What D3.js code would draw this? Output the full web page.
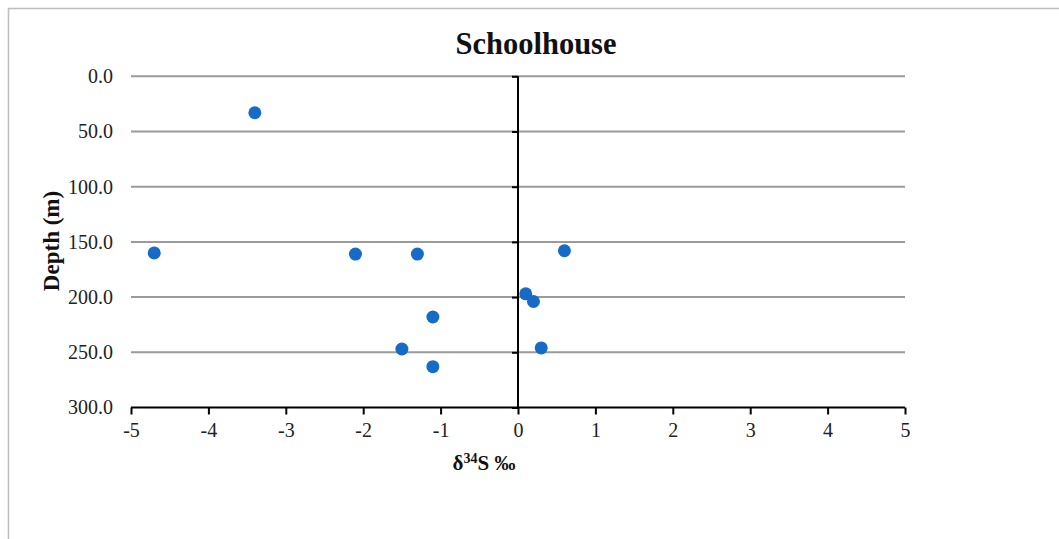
<!DOCTYPE html>
<html>
<head>
<meta charset="utf-8">
<script src="https://cdn.jsdelivr.net/npm/d3@7"></script>
<style>
  html, body { margin: 0; padding: 0; background: #fff; }
  svg { display: block; font-family: "Liberation Serif", "Times New Roman", serif; }
</style>
</head>
<body>
<svg id="chart" width="1059" height="539"></svg>
<script>
// δ34S values (‰) and sample depths (m)
const delta34S = [-3.4, -4.7, -2.1, -1.3, 0.6, 0.1, 0.2, -1.1, -1.5, 0.3, -1.1];
const depthM   = [33, 160, 161, 161, 158, 197, 204, 218, 247, 246, 263];
const xTicks = [-5, -4, -3, -2, -1, 0, 1, 2, 3, 4, 5];
const yTicks = [0, 50, 100, 150, 200, 250, 300];
const chartTitle = "Schoolhouse";

const svg = d3.select("#chart");
const serif = "Liberation Serif, Times New Roman, serif";

// outer frame (left and top edges visible)
svg.append("rect")
  .attr("x", 8.5).attr("y", 8.5)
  .attr("width", 1100).attr("height", 600)
  .attr("fill", "none").attr("stroke", "#bdbdbd").attr("stroke-width", 1.5);

const x = d3.scaleLinear().domain([-5, 5]).range([131, 905]);
const y = d3.scaleLinear().domain([0, 300]).range([76.3, 407.5]);

// horizontal gridlines
svg.append("g")
  .selectAll("line")
  .data(yTicks.filter(d => d < 300))
  .join("line")
  .attr("x1", x(-5)).attr("x2", x(5))
  .attr("y1", d => y(d)).attr("y2", d => y(d))
  .attr("stroke", "#9a9a9a").attr("stroke-width", 2);

// depth tick labels on the left edge
const yLabels = svg.append("g")
  .attr("transform", `translate(${x(-5)},0)`)
  .call(d3.axisLeft(y).tickValues(yTicks).tickSize(0).tickPadding(18)
    .tickFormat(d3.format(".1f")));
yLabels.select(".domain").remove();
yLabels.selectAll("text")
  .attr("font-family", serif)
  .attr("font-size", 20).attr("fill", "#222");

// vertical axis through δ34S = 0
const zeroAxis = svg.append("g")
  .attr("transform", `translate(${x(0)},0)`)
  .call(d3.axisLeft(y).tickValues(yTicks).tickSize(6).tickFormat(""));
zeroAxis.select(".domain").attr("stroke", "#000").attr("stroke-width", 2)
  .attr("d", `M0,${y(0)}V${y(300)}`);
zeroAxis.selectAll(".tick line").attr("stroke", "#000").attr("stroke-width", 2);

// horizontal axis at the bottom
const xAxis = svg.append("g")
  .attr("transform", `translate(0,${y(300)})`)
  .call(d3.axisBottom(x).tickValues(xTicks).tickSize(7).tickPadding(8)
    .tickFormat(d => String(d)));
xAxis.select(".domain").attr("stroke", "#000").attr("stroke-width", 2)
  .attr("d", `M${x(-5)},0H${x(5)}`);
xAxis.selectAll(".tick line").attr("stroke", "#000").attr("stroke-width", 2);
xAxis.selectAll("text")
  .attr("font-family", serif)
  .attr("font-size", 20).attr("fill", "#222");

// data points
svg.append("g")
  .selectAll("circle")
  .data(delta34S.map((v, i) => ({ v, d: depthM[i] })))
  .join("circle")
  .attr("cx", p => x(p.v))
  .attr("cy", p => y(p.d))
  .attr("r", 6.5)
  .attr("fill", "#166bc7");

// title
svg.append("text")
  .attr("x", 536).attr("y", 54)
  .attr("text-anchor", "middle")
  .attr("font-size", 30.5).attr("font-weight", "bold").attr("fill", "#111")
  .text(chartTitle);

// x-axis title with superscript
const xt = svg.append("text")
  .attr("x", 484).attr("y", 470)
  .attr("text-anchor", "middle")
  .attr("font-size", 21).attr("font-weight", "bold").attr("fill", "#111");
xt.append("tspan").text("δ");
xt.append("tspan").attr("font-size", 14).attr("dy", -7).text("34");
xt.append("tspan").attr("dy", 7).text("S ‰");

// y-axis title
svg.append("text")
  .attr("transform", "translate(59,241) rotate(-90)")
  .attr("text-anchor", "middle")
  .attr("font-size", 23).attr("font-weight", "bold").attr("fill", "#111")
  .text("Depth (m)");
</script>
</body>
</html>
